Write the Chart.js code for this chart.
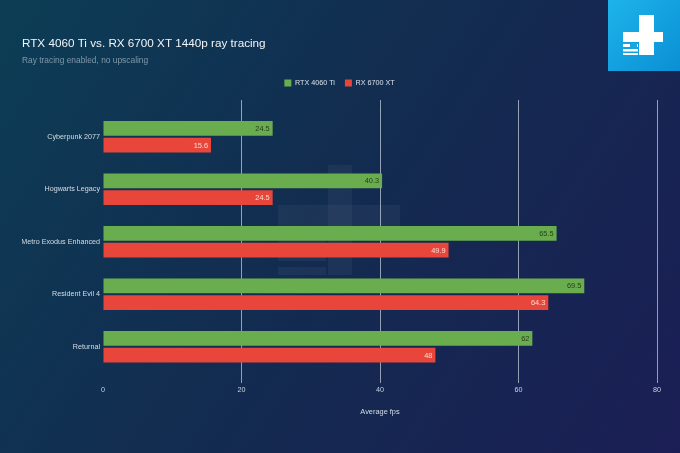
<!DOCTYPE html>
<html>
<head>
<meta charset="utf-8">
<script src="https://cdn.jsdelivr.net/npm/chart.js@4/dist/chart.umd.min.js"></script>
<style>
  html, body { margin: 0; padding: 0; background: #122a4e; }
  #wrap { width: 680px; height: 453px; position: relative; }
</style>
</head>
<body>
<div id="wrap"><canvas id="c" width="680" height="453"></canvas></div>
<script>
const chartTitle = 'RTX 4060 Ti vs. RX 6700 XT 1440p ray tracing';
const chartSubtitle = 'Ray tracing enabled, no upscaling';
const categories = ['Cyberpunk 2077', 'Hogwarts Legacy', 'Metro Exodus Enhanced', 'Resident Evil 4', 'Returnal'];
const seriesNames = ['RTX 4060 Ti', 'RX 6700 XT'];
const rtx4060Ti = [24.5, 40.3, 65.5, 69.5, 62];
const rx6700XT = [15.6, 24.5, 49.9, 64.3, 48];
const xMin = 0, xMax = 80, xStep = 20;
const xAxisTitle = 'Average fps';

const FONT = '"Liberation Sans", Arial, Helvetica, sans-serif';
const GREEN = '#69ad4e';
const RED = '#e8463b';
const GRID = 'rgba(190,202,215,0.75)';
const gridColor = (ctx) => (ctx.tick && ctx.tick.value === 0) ? 'rgba(0,0,0,0)' : GRID;

const backgroundPlugin = {
  id: 'bg',
  beforeDraw(chart) {
    const ctx = chart.ctx;
    const w = chart.width, h = chart.height;
    ctx.save();
    const g = ctx.createLinearGradient(0, 0, w, h);
    g.addColorStop(0, '#0c3d55');
    g.addColorStop(0.5, '#132b50');
    g.addColorStop(1, '#1b1e55');
    ctx.fillStyle = g;
    ctx.fillRect(0, 0, w, h);
    // faint watermark
    ctx.fillStyle = 'rgba(255,255,255,0.045)';
    ctx.fillRect(328, 165, 24, 110);
    ctx.fillRect(278, 205, 122, 24);
    ctx.fillRect(278, 236, 48, 9);
    ctx.fillRect(278, 252, 48, 9);
    ctx.fillRect(278, 267, 48, 8);
    // logo
    const lg = ctx.createLinearGradient(608, 0, 680, 72);
    lg.addColorStop(0, '#1db4ea');
    lg.addColorStop(1, '#0a8fd4');
    ctx.fillStyle = lg;
    ctx.fillRect(608, 0, 72, 71);
    ctx.fillStyle = '#ffffff';
    ctx.fillRect(639, 15, 15, 40);
    ctx.fillRect(623, 32, 40, 10);
    ctx.fillRect(623, 44, 15, 3);
    ctx.fillRect(623, 49, 15, 2.5);
    ctx.fillRect(623, 53, 15, 2);
    ctx.fillStyle = '#1aa6e2';
    ctx.fillRect(630, 43, 7, 6);
    ctx.restore();
  }
};

const valueLabelPlugin = {
  id: 'valueLabels',
  afterDatasetsDraw(chart) {
    const ctx = chart.ctx;
    ctx.save();
    ctx.font = '7.4px ' + FONT;
    ctx.textAlign = 'right';
    ctx.textBaseline = 'middle';
    chart.data.datasets.forEach((ds, di) => {
      const meta = chart.getDatasetMeta(di);
      ctx.fillStyle = di === 0 ? '#263f1c' : '#f6ddd8';
      meta.data.forEach((bar, i) => {
        ctx.fillText(String(ds.data[i]), bar.x - 3, bar.y + 0.5);
      });
    });
    ctx.restore();
  }
};

new Chart(document.getElementById('c'), {
  type: 'bar',
  data: {
    labels: categories,
    datasets: [
      { label: seriesNames[0], data: rtx4060Ti, backgroundColor: GREEN, borderWidth: 0, categoryPercentage: 0.64, barPercentage: 0.88 },
      { label: seriesNames[1], data: rx6700XT, backgroundColor: RED, borderWidth: 0, categoryPercentage: 0.64, barPercentage: 0.88 }
    ]
  },
  options: {
    indexAxis: 'y',
    responsive: false,
    animation: false,
    devicePixelRatio: 1,
    layout: { padding: { left: 22, right: 23, top: 0, bottom: 36.5 } },
    plugins: {
      tooltip: { enabled: false },
      title: {
        display: true, text: chartTitle, align: 'start', color: '#f2f5f8',
        font: { family: FONT, size: 11.7, weight: 'normal' },
        padding: { top: 37, bottom: 0 }
      },
      subtitle: {
        display: true, text: chartSubtitle, align: 'start', color: '#7f98ab',
        font: { family: FONT, size: 8.4, weight: 'normal' },
        padding: { top: 4.4, bottom: 3.9 }
      },
      legend: {
        display: true, position: 'top', align: 'center',
        labels: {
          color: '#d8e0e8', font: { family: FONT, size: 7.2 },
          boxWidth: 7, boxHeight: 7, padding: 10
        }
      }
    },
    scales: {
      y: {
        type: 'category',
        grid: { display: false, drawTicks: false },
        border: { display: false },
        ticks: { color: '#d6dde6', font: { family: FONT, size: 7.2 }, padding: 3 },
        afterFit(scale) { scale.width = 81; }
      },
      x: {
        type: 'linear', position: 'bottom',
        min: xMin, max: xMax,
        grid: { color: gridColor, tickColor: gridColor, lineWidth: 1, drawTicks: true, tickLength: 10 },
        border: { display: false },
        ticks: { stepSize: xStep, color: '#c9d2dc', font: { family: FONT, size: 7.2 }, padding: 3 },
        title: { display: true, text: xAxisTitle, color: '#d6dde6', font: { family: FONT, size: 7.4 }, padding: { top: 10, bottom: 0 } }
      },
      x2: {
        type: 'linear', position: 'top', axis: 'x',
        min: xMin, max: xMax,
        grid: { color: gridColor, tickColor: gridColor, lineWidth: 1, drawOnChartArea: false, drawTicks: true, tickLength: 10.5 },
        border: { display: false },
        ticks: { stepSize: xStep, display: false },
        afterFit(scale) { scale.height = 13.9; }
      }
    }
  },
  plugins: [backgroundPlugin, valueLabelPlugin]
});
</script>
</body>
</html>
